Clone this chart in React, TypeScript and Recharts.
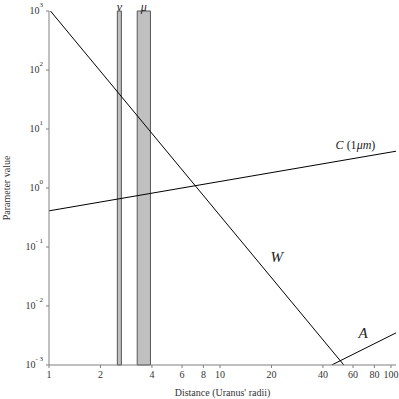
import {
  LineChart,
  Line,
  XAxis,
  YAxis,
  ReferenceArea,
  ReferenceDot,
} from "recharts";

// distance in Uranus radii vs parameter value (log-log)
const wLine = [
  { r: 1.02, v: 1000 },
  { r: 53, v: 0.001 },
];
const cLine = [
  { r: 1, v: 0.41 },
  { r: 107, v: 4.2 },
];
const aLine = [
  { r: 45, v: 0.001 },
  { r: 107, v: 0.0035 },
];

// ring bands
const rings = [
  { name: "ν", from: 2.51, to: 2.65 },
  { name: "μ", from: 3.28, to: 3.92 },
];

const xTicks = [1, 2, 4, 6, 8, 10, 20, 40, 60, 80, 100];
const yTicks = [0.001, 0.01, 0.1, 1, 10, 100, 1000];

const FONT = "Liberation Serif, DejaVu Serif, serif";

function PowerTick(props: any) {
  const { x, y, payload } = props;
  const exp = Math.round(Math.log10(payload.value));
  return (
    <text x={x - 1} y={y + 3} textAnchor="end" fontFamily={FONT} fontSize={10} fill="#333">
      10
      <tspan dy={-7} fontSize={7}>
        {exp < 0 ? "- " + Math.abs(exp) : exp}
      </tspan>
    </text>
  );
}

function DistTick(props: any) {
  const { x, y, payload } = props;
  return (
    <text x={x} y={y + 8} textAnchor="middle" fontFamily={FONT} fontSize={10} fill="#333">
      {payload.value}
    </text>
  );
}

function RingLabel(props: any) {
  const { viewBox, value } = props;
  if (!viewBox) return null;
  return (
    <text
      x={viewBox.x + viewBox.width / 2}
      y={viewBox.y}
      textAnchor="middle"
      fontFamily={FONT}
      fontStyle="italic"
      fontSize={12}
      fill="#222"
    >
      {value}
    </text>
  );
}

function Note(props: any) {
  const { viewBox, value, size } = props;
  if (!viewBox) return null;
  return (
    <text
      x={viewBox.x}
      y={viewBox.y}
      textAnchor="middle"
      dominantBaseline="central"
      fontFamily={FONT}
      fontStyle="italic"
      fontSize={size}
      fill="#222"
    >
      {value}
    </text>
  );
}

function CNote(props: any) {
  const { viewBox } = props;
  if (!viewBox) return null;
  return (
    <text
      x={viewBox.x}
      y={viewBox.y}
      textAnchor="middle"
      dominantBaseline="central"
      fontFamily={FONT}
      fontSize={12}
      fill="#222"
    >
      <tspan fontStyle="italic">C</tspan>
      <tspan> (1</tspan>
      <tspan fontStyle="italic">μm</tspan>
      <tspan>)</tspan>
    </text>
  );
}

export default function App() {
  return (
    <div style={{ position: "absolute", left: 0, top: 0, background: "#fff" }}>
      <LineChart width={399} height={399} margin={{ top: 11, right: 3, left: 0, bottom: 0 }}>
        <XAxis
          dataKey="r"
          type="number"
          scale="log"
          domain={[1, 107]}
          allowDataOverflow
          ticks={xTicks}
          interval={0}
          height={34}
          stroke="#808080"
          tickSize={3}
          tick={<DistTick />}
          label={{
            value: "Distance (Uranus' radii)",
            position: "insideBottom",
            offset: 3,
            style: { fontFamily: FONT, fontSize: 10, fill: "#333" },
          }}
        />
        <YAxis
          dataKey="v"
          type="number"
          scale="log"
          domain={[0.001, 1000]}
          allowDataOverflow
          ticks={yTicks}
          interval={0}
          width={49}
          stroke="#808080"
          tickSize={3}
          tick={<PowerTick />}
          label={{
            value: "Parameter value",
            angle: -90,
            position: "insideLeft",
            offset: 6,
            style: { fontFamily: FONT, fontSize: 10, fill: "#333", textAnchor: "middle" },
          }}
        />
        {rings.map((ring) => (
          <ReferenceArea
            key={ring.name}
            x1={ring.from}
            x2={ring.to}
            y1={0.001}
            y2={1000}
            fill="#c0c0c0"
            fillOpacity={1}
            stroke="#555"
            strokeWidth={1}
            ifOverflow="visible"
            label={<RingLabel value={ring.name} />}
          />
        ))}
        <Line data={wLine} dataKey="v" stroke="#000" strokeWidth={1} dot={false} isAnimationActive={false} />
        <Line data={cLine} dataKey="v" stroke="#000" strokeWidth={1} dot={false} isAnimationActive={false} />
        <Line data={aLine} dataKey="v" stroke="#000" strokeWidth={1} dot={false} isAnimationActive={false} />
        <ReferenceDot x={62} y={5.4} r={0} fill="none" stroke="none" label={<CNote />} />
        <ReferenceDot x={21.5} y={0.068} r={0} fill="none" stroke="none" label={<Note value="W" size={15} />} />
        <ReferenceDot x={68.6} y={0.0035} r={0} fill="none" stroke="none" label={<Note value="A" size={15} />} />
      </LineChart>
    </div>
  );
}
